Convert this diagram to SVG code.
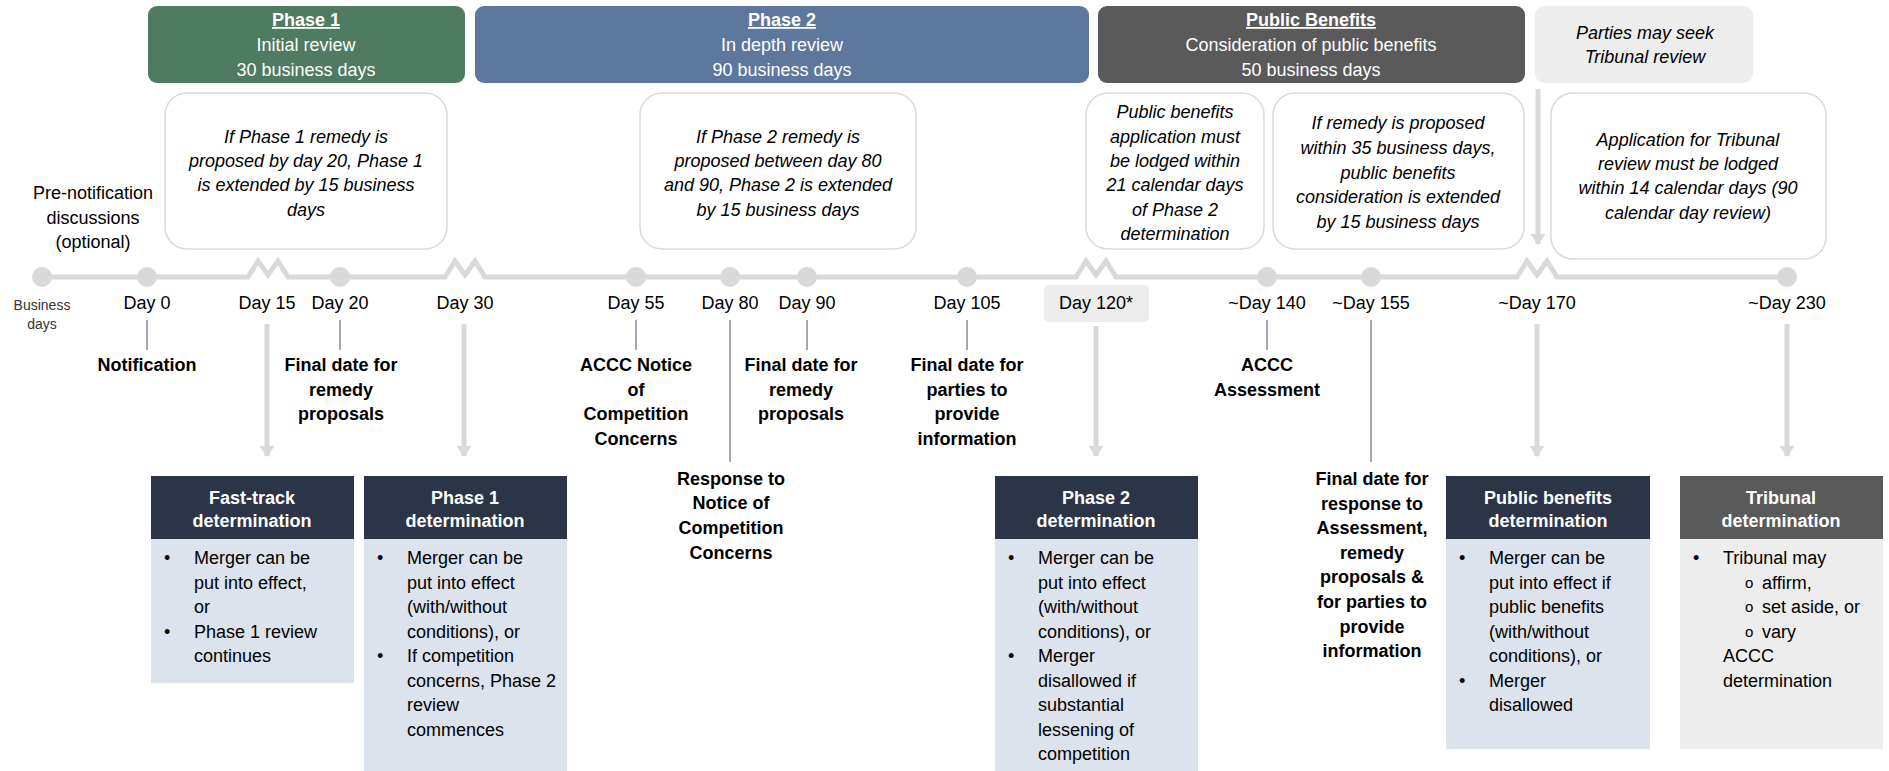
<svg xmlns="http://www.w3.org/2000/svg" width="1889" height="771" viewBox="0 0 1889 771">
<style>
text{font-family:"Liberation Sans",Arial,sans-serif;font-size:18px;fill:#000}
.c{text-anchor:middle}
.w{fill:#fff}
.b{font-weight:bold}
.i{font-style:italic}
.u{text-decoration:underline}
.sm{font-size:14px;fill:#333}
.o{font-size:15px}
.note{fill:#fff;stroke:#d9d9d9;stroke-width:1.5}
.dot{fill:#d9d9d9}
.thin{stroke:#44546a;stroke-width:1;fill:none}
.garrow{stroke:#d9d9d9;stroke-width:5;fill:none}
.dh{fill:#2c3547}
.db{fill:#dde3ec}
</style>
<defs>
<marker id="ah" viewBox="0 0 10 10" refX="9" refY="5" markerWidth="2.2" markerHeight="3" orient="auto" markerUnits="strokeWidth" preserveAspectRatio="none">
<path d="M0,0 L10,5 L0,10 Z" fill="#d9d9d9"/>
</marker>
</defs>

<!-- Phase headers -->
<g id="phase1">
<rect x="148" y="6" width="317" height="77" rx="9" fill="#4e7b62"/>
<text class="c w b u" x="306" y="26">Phase 1</text>
<text class="c w" x="306" y="51">Initial review</text>
<text class="c w" x="306" y="76">30 business days</text>
</g>
<g id="phase2">
<rect x="475" y="6" width="614" height="77" rx="9" fill="#5e789d"/>
<text class="c w b u" x="782" y="26">Phase 2</text>
<text class="c w" x="782" y="51">In depth review</text>
<text class="c w" x="782" y="76">90 business days</text>
</g>
<g id="public-benefits">
<rect x="1098" y="6" width="427" height="77" rx="9" fill="#5a5a5a"/>
<text class="c w b u" x="1311" y="26">Public Benefits</text>
<text class="c w" x="1311" y="51">Consideration of public benefits</text>
<text class="c w" x="1311" y="76">50 business days</text>
</g>
<g id="tribunal-review">
<rect x="1535" y="6" width="218" height="77" rx="9" fill="#ededed"/>
<text class="c i" x="1645" y="39" fill="#262626">Parties may seek</text>
<text class="c i" x="1645" y="63" fill="#262626">Tribunal review</text>
</g>

<!-- Notes -->
<g id="note1">
<rect class="note" x="165" y="93" width="282" height="156" rx="22"/>
<text class="c i" x="306" y="143">If Phase 1 remedy is</text>
<text class="c i" x="306" y="167">proposed by day 20, Phase 1</text>
<text class="c i" x="306" y="191">is extended by 15 business</text>
<text class="c i" x="306" y="216">days</text>
</g>
<g id="note2">
<rect class="note" x="640" y="93" width="276" height="156" rx="22"/>
<text class="c i" x="778" y="143">If Phase 2 remedy is</text>
<text class="c i" x="778" y="167">proposed between day 80</text>
<text class="c i" x="778" y="191">and 90, Phase 2 is extended</text>
<text class="c i" x="778" y="216">by 15 business days</text>
</g>
<g id="note3">
<rect class="note" x="1086" y="93" width="178" height="156" rx="22"/>
<text class="c i" x="1175" y="118">Public benefits</text>
<text class="c i" x="1175" y="143">application must</text>
<text class="c i" x="1175" y="167">be lodged within</text>
<text class="c i" x="1175" y="191">21 calendar days</text>
<text class="c i" x="1175" y="216">of Phase 2</text>
<text class="c i" x="1175" y="240">determination</text>
</g>
<g id="note4">
<rect class="note" x="1273" y="93" width="251" height="156" rx="22"/>
<text class="c i" x="1398" y="129">If remedy is proposed</text>
<text class="c i" x="1398" y="154">within 35 business days,</text>
<text class="c i" x="1398" y="179">public benefits</text>
<text class="c i" x="1398" y="203">consideration is extended</text>
<text class="c i" x="1398" y="228">by 15 business days</text>
</g>
<g id="note5">
<rect class="note" x="1551" y="93" width="275" height="166" rx="22"/>
<text class="c i" x="1688" y="146">Application for Tribunal</text>
<text class="c i" x="1688" y="170">review must be lodged</text>
<text class="c i" x="1688" y="194">within 14 calendar days (90</text>
<text class="c i" x="1688" y="219">calendar day review)</text>
</g>

<g id="prenotification">
<text class="c" x="93" y="199">Pre-notification</text>
<text class="c" x="93" y="224">discussions</text>
<text class="c" x="93" y="248">(optional)</text>
</g>

<!-- Connectors -->
<g id="connectors">
<path d="M42,277 H248 L258,261 L268,275 L278,261 L288,277 H445 L455,261 L465,275 L475,261 L485,277 H1076 L1086,261 L1096,275 L1106,261 L1116,277 H1517 L1527,261 L1537,275 L1547,261 L1557,277 H1787" stroke="#d9d9d9" stroke-width="5" fill="none" stroke-linejoin="miter"/>
<circle class="dot" cx="42" cy="277" r="10"/>
<circle class="dot" cx="147" cy="277" r="10"/>
<circle class="dot" cx="340" cy="277" r="10"/>
<circle class="dot" cx="636" cy="277" r="10"/>
<circle class="dot" cx="730" cy="277" r="10"/>
<circle class="dot" cx="807" cy="277" r="10"/>
<circle class="dot" cx="967" cy="277" r="10"/>
<circle class="dot" cx="1267" cy="277" r="10"/>
<circle class="dot" cx="1371" cy="277" r="10"/>
<circle class="dot" cx="1787" cy="277" r="10"/>

<line class="thin" x1="147" y1="320" x2="147" y2="350"/>
<line class="thin" x1="340" y1="320" x2="340" y2="350"/>
<line class="thin" x1="636" y1="320" x2="636" y2="350"/>
<line class="thin" x1="730" y1="320" x2="730" y2="462"/>
<line class="thin" x1="807" y1="320" x2="807" y2="350"/>
<line class="thin" x1="967" y1="320" x2="967" y2="350"/>
<line class="thin" x1="1267" y1="320" x2="1267" y2="350"/>
<line class="thin" x1="1371" y1="320" x2="1371" y2="462" stroke="#7f8896"/>

<line class="garrow" x1="267" y1="324" x2="267" y2="456" marker-end="url(#ah)"/>
<line class="garrow" x1="464" y1="324" x2="464" y2="456" marker-end="url(#ah)"/>
<line class="garrow" x1="1096" y1="326" x2="1096" y2="456" marker-end="url(#ah)"/>
<line class="garrow" x1="1537" y1="324" x2="1537" y2="456" marker-end="url(#ah)"/>
<line class="garrow" x1="1787" y1="324" x2="1787" y2="456" marker-end="url(#ah)"/>
<line class="garrow" x1="1538" y1="89" x2="1538" y2="244" marker-end="url(#ah)"/>
</g>

<!-- Day labels -->
<g id="day-labels">
<text class="c sm" x="42" y="310">Business</text>
<text class="c sm" x="42" y="329">days</text>
<text class="c" x="147" y="309">Day 0</text>
<text class="c" x="267" y="309">Day 15</text>
<text class="c" x="340" y="309">Day 20</text>
<text class="c" x="465" y="309">Day 30</text>
<text class="c" x="636" y="309">Day 55</text>
<text class="c" x="730" y="309">Day 80</text>
<text class="c" x="807" y="309">Day 90</text>
<text class="c" x="967" y="309">Day 105</text>
<rect x="1044" y="285" width="105" height="37" rx="5" fill="#ededed"/>
<text class="c" x="1096" y="309">Day 120*</text>
<text class="c" x="1267" y="309">~Day 140</text>
<text class="c" x="1371" y="309">~Day 155</text>
<text class="c" x="1537" y="309">~Day 170</text>
<text class="c" x="1787" y="309">~Day 230</text>
</g>

<!-- Event labels -->
<g id="ev-notification"><text class="c b" x="147" y="371">Notification</text></g>
<g id="ev-remedy1">
<text class="c b" x="341" y="371">Final date for</text>
<text class="c b" x="341" y="396">remedy</text>
<text class="c b" x="341" y="420">proposals</text>
</g>
<g id="ev-notice">
<text class="c b" x="636" y="371">ACCC Notice</text>
<text class="c b" x="636" y="396">of</text>
<text class="c b" x="636" y="420">Competition</text>
<text class="c b" x="636" y="445">Concerns</text>
</g>
<g id="ev-response">
<text class="c b" x="731" y="485">Response to</text>
<text class="c b" x="731" y="509">Notice of</text>
<text class="c b" x="731" y="534">Competition</text>
<text class="c b" x="731" y="559">Concerns</text>
</g>
<g id="ev-remedy2">
<text class="c b" x="801" y="371">Final date for</text>
<text class="c b" x="801" y="396">remedy</text>
<text class="c b" x="801" y="420">proposals</text>
</g>
<g id="ev-info">
<text class="c b" x="967" y="371">Final date for</text>
<text class="c b" x="967" y="396">parties to</text>
<text class="c b" x="967" y="420">provide</text>
<text class="c b" x="967" y="445">information</text>
</g>
<g id="ev-assessment">
<text class="c b" x="1267" y="371">ACCC</text>
<text class="c b" x="1267" y="396">Assessment</text>
</g>
<g id="ev-final-response">
<text class="c b" x="1372" y="485">Final date for</text>
<text class="c b" x="1372" y="510">response to</text>
<text class="c b" x="1372" y="534">Assessment,</text>
<text class="c b" x="1372" y="559">remedy</text>
<text class="c b" x="1372" y="583">proposals &amp;</text>
<text class="c b" x="1372" y="608">for parties to</text>
<text class="c b" x="1372" y="633">provide</text>
<text class="c b" x="1372" y="657">information</text>
</g>

<!-- Determination boxes -->
<g id="det-fasttrack">
<rect class="db" x="151" y="539" width="203" height="144"/>
<rect class="dh" x="151" y="476" width="203" height="63"/>
<text class="c w b" x="252" y="504">Fast-track</text>
<text class="c w b" x="252" y="527">determination</text>
<text x="164" y="564">•</text><text x="194" y="564">Merger can be</text>
<text x="194" y="589">put into effect,</text>
<text x="194" y="613">or</text>
<text x="164" y="638">•</text><text x="194" y="638">Phase 1 review</text>
<text x="194" y="662">continues</text>
</g>
<g id="det-phase1">
<rect class="db" x="364" y="539" width="203" height="232"/>
<rect class="dh" x="364" y="476" width="203" height="63"/>
<text class="c w b" x="465" y="504">Phase 1</text>
<text class="c w b" x="465" y="527">determination</text>
<text x="377" y="564">•</text><text x="407" y="564">Merger can be</text>
<text x="407" y="589">put into effect</text>
<text x="407" y="613">(with/without</text>
<text x="407" y="638">conditions), or</text>
<text x="377" y="662">•</text><text x="407" y="662">If competition</text>
<text x="407" y="687">concerns, Phase 2</text>
<text x="407" y="711">review</text>
<text x="407" y="736">commences</text>
</g>
<g id="det-phase2">
<rect class="db" x="995" y="539" width="203" height="232"/>
<rect class="dh" x="995" y="476" width="203" height="63"/>
<text class="c w b" x="1096" y="504">Phase 2</text>
<text class="c w b" x="1096" y="527">determination</text>
<text x="1008" y="564">•</text><text x="1038" y="564">Merger can be</text>
<text x="1038" y="589">put into effect</text>
<text x="1038" y="613">(with/without</text>
<text x="1038" y="638">conditions), or</text>
<text x="1008" y="662">•</text><text x="1038" y="662">Merger</text>
<text x="1038" y="687">disallowed if</text>
<text x="1038" y="711">substantial</text>
<text x="1038" y="736">lessening of</text>
<text x="1038" y="760">competition</text>
</g>
<g id="det-public-benefits">
<rect class="db" x="1446" y="539" width="204" height="210"/>
<rect class="dh" x="1446" y="476" width="204" height="63"/>
<text class="c w b" x="1548" y="504">Public benefits</text>
<text class="c w b" x="1548" y="527">determination</text>
<text x="1459" y="564">•</text><text x="1489" y="564">Merger can be</text>
<text x="1489" y="589">put into effect if</text>
<text x="1489" y="613">public benefits</text>
<text x="1489" y="638">(with/without</text>
<text x="1489" y="662">conditions), or</text>
<text x="1459" y="687">•</text><text x="1489" y="687">Merger</text>
<text x="1489" y="711">disallowed</text>
</g>
<g id="det-tribunal">
<rect x="1680" y="539" width="203" height="210" fill="#ededed"/>
<rect x="1680" y="476" width="203" height="63" fill="#5a5a5a"/>
<text class="c w b" x="1781" y="504">Tribunal</text>
<text class="c w b" x="1781" y="527">determination</text>
<text x="1693" y="564">•</text><text x="1723" y="564">Tribunal may</text>
<text class="o" x="1745" y="588">o</text><text x="1762" y="589">affirm,</text>
<text class="o" x="1745" y="612">o</text><text x="1762" y="613">set aside, or</text>
<text class="o" x="1745" y="637">o</text><text x="1762" y="638">vary</text>
<text x="1723" y="662">ACCC</text>
<text x="1723" y="687">determination</text>
</g>
</svg>
